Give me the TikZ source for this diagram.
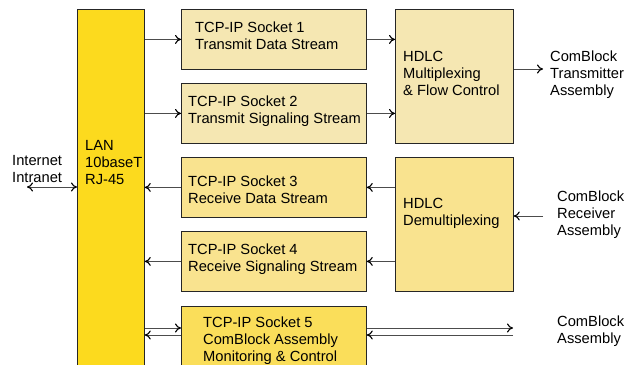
\documentclass[tikz,border=0pt]{standalone}
\usepackage{fontspec}
\setmainfont{Liberation Sans}
\usetikzlibrary{arrows.meta}
\definecolor{txc}{RGB}{245,231,178}
\definecolor{rxc}{RGB}{249,227,143}
\definecolor{mc}{RGB}{250,222,90}
\definecolor{lanc}{RGB}{252,218,30}
\begin{document}
\begin{tikzpicture}[x=1pt,y=1pt,
  box/.style={draw=black!85, line width=0.8pt, anchor=north west, inner sep=0pt},
  txt/.style={anchor=north west, align=left, inner sep=0pt, font=\fontsize{14.7}{17}\selectfont},
  arr/.style={draw=black!70, line width=0.9pt, -{To[length=6pt,width=9pt,line width=1.1pt,color=black]}},
  darr/.style={draw=black!70, line width=0.9pt, {To[length=6pt,width=9pt,line width=1.1pt,color=black]}-{To[length=6pt,width=9pt,line width=1.1pt,color=black]}}
]
\useasboundingbox (0,0) rectangle (636,-364);
\clip (0,0) rectangle (636,-364);
% boxes
\node[box, fill=lanc, minimum width=67pt, minimum height=380pt] (lan) at (77,-9) {};
\node[box, fill=txc, minimum width=185pt, minimum height=60pt] (s1) at (181,-9) {};
\node[box, fill=txc, minimum width=185pt, minimum height=60pt] (s2) at (181,-83) {};
\node[box, fill=rxc, minimum width=185pt, minimum height=60pt] (s3) at (181,-157) {};
\node[box, fill=rxc, minimum width=185pt, minimum height=60pt] (s4) at (181,-231) {};
\node[box, fill=mc, minimum width=185pt, minimum height=80pt] (s5) at (181,-306) {};
\node[box, fill=txc, minimum width=118pt, minimum height=134pt] (mux) at (395,-9) {};
\node[box, fill=rxc, minimum width=118pt, minimum height=134pt] (demux) at (395,-157) {};
% texts
\node[txt] (tlan) at (85,-139) {\rule{0pt}{11pt}LAN\\10baseT\\RJ-45};
\node[txt] (tinet) at (12,-154.5) {\rule{0pt}{11pt}Internet\\Intranet};
\node[txt] (t1) at (195,-21) {\rule{0pt}{11pt}TCP-IP Socket 1\\Transmit Data Stream};
\node[txt] (t2) at (188,-95) {\rule{0pt}{11pt}TCP-IP Socket 2\\Transmit Signaling Stream};
\node[txt] (t3) at (188,-175) {\rule{0pt}{11pt}TCP-IP Socket 3\\Receive Data Stream};
\node[txt] (t4) at (188,-243) {\rule{0pt}{11pt}TCP-IP Socket 4\\Receive Signaling Stream};
\node[txt] (t5) at (203,-316.7) {\rule{0pt}{11pt}TCP-IP Socket 5\\ComBlock Assembly\\Monitoring \& Control};
\node[txt] (tmux) at (403,-50) {\rule{0pt}{11pt}HDLC\\Multiplexing\\\& Flow Control};
\node[txt] (tdemux) at (403,-197.5) {\rule{0pt}{11pt}HDLC\\Demultiplexing};
\node[txt] (ttx) at (550,-50) {\rule{0pt}{11pt}ComBlock\\Transmitter\\Assembly};
\node[txt] (trx) at (557,-189.8) {\rule{0pt}{11pt}ComBlock\\Receiver\\Assembly};
\node[txt] (tca) at (557,-315.5) {\rule{0pt}{11pt}ComBlock\\Assembly};
% connectors
\coordinate (inet) at (27,-187);
\coordinate (tx) at (543,-69);
\coordinate (rx) at (543,-216);
\coordinate (c5a) at (0,-328);
\coordinate (c5b) at (0,-335);
\coordinate (ca) at (513,-328);
\coordinate (cb) at (513,-335);
\draw[darr] (inet) -- (lan.west |- inet);
\draw[arr] (lan.east |- s1.west) -- (s1.west);
\draw[arr] (lan.east |- s2.west) -- (s2.west);
\draw[arr] (s1.east) -- (mux.west |- s1.east);
\draw[arr] (s2.east) -- (mux.west |- s2.east);
\draw[arr] (mux.east |- tx) -- (tx);
\draw[arr] (s3.west) -- (lan.east |- s3.west);
\draw[arr] (s4.west) -- (lan.east |- s4.west);
\draw[arr] (demux.west |- s3.east) -- (s3.east);
\draw[arr] (demux.west |- s4.east) -- (s4.east);
\draw[arr] (rx) -- (demux.east |- rx);
\draw[arr] (lan.east |- c5a) -- (s5.west |- c5a);
\draw[arr] (s5.west |- c5b) -- (lan.east |- c5b);
\draw[arr] (s5.east |- ca) -- (ca);
\draw[arr] (cb) -- (s5.east |- cb);
\end{tikzpicture}
\end{document}
